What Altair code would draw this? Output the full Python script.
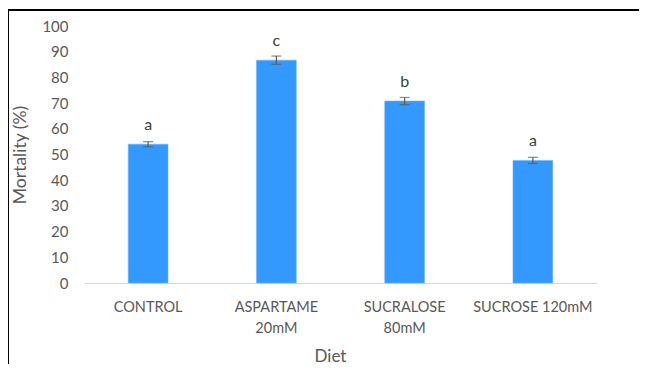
import altair as alt
import pandas as pd

categories = ["CONTROL", "ASPARTAME\n20mM", "SUCRALOSE\n80mM", "SUCROSE 120mM"]
mortality = [54.0, 86.7, 70.8, 47.7]
errors = [1.0, 1.6, 1.4, 1.2]
letters = ["a", "c", "b", "a"]
y_ticks = list(range(0, 101, 10))

df = pd.DataFrame({
    "diet": categories,
    "mortality": mortality,
    "lo": [m - e for m, e in zip(mortality, errors)],
    "hi": [m + e for m, e in zip(mortality, errors)],
    "letter": letters,
})

FONT = "Lato"
GRAY = "#595959"

x_axis = alt.Axis(title="Diet", labelAngle=0, labelExpr="split(datum.value, '\\n')",
                  labelFontSize=14.5, labelColor=GRAY, labelFont=FONT, labelPadding=17,
                  labelLineHeight=21, ticks=False, domainColor="#d9d9d9", domainWidth=1,
                  titleFontSize=17, titleFont=FONT, titleColor=GRAY, titleFontWeight="normal",
                  titleX=246, titleY=73, titleBaseline="middle")
y_axis = alt.Axis(title="Mortality (%)", values=y_ticks, tickCount=11, labelOverlap=False,
                  domain=False, ticks=False, grid=False, labelFontSize=15, labelColor=GRAY,
                  labelFont=FONT, labelPadding=16, titleFontSize=17.5, titleFont=FONT,
                  titleColor=GRAY, titleFontWeight="normal", titleX=-64, titleY=128.5,
                  titleBaseline="middle")
y_scale = alt.Scale(domain=[0, 100])
x_scale = alt.Scale(paddingInner=0.69, paddingOuter=0.345)

def X():
    return alt.X("diet:N", sort=categories, scale=x_scale, axis=x_axis)

def Y(field):
    return alt.Y(field, scale=y_scale, axis=y_axis)

bars = alt.Chart(df).mark_bar(color="#3399FF", stroke="#66B3FF", strokeWidth=0.6).encode(
    x=X(), y=Y("mortality:Q"))
rules = alt.Chart(df).mark_rule(color=GRAY, strokeWidth=1.2).encode(
    x=X(), y=Y("lo:Q"), y2="hi:Q")
caps_hi = alt.Chart(df).mark_tick(color=GRAY, size=10, thickness=1.2).encode(
    x=X(), y=Y("hi:Q"))
caps_lo = alt.Chart(df).mark_tick(color=GRAY, size=10, thickness=1.2).encode(
    x=X(), y=Y("lo:Q"))
text = alt.Chart(df).mark_text(font=FONT, fontSize=16, color="#404040", dy=-19, baseline="middle").encode(
    x=X(), y=Y("mortality:Q"), text="letter:N")

border_top = alt.Chart(df).mark_rule(color="black", strokeWidth=1.4).encode(
    x=alt.value(-76), x2=alt.value(700), y=alt.value(-16))
border_left = alt.Chart(df).mark_rule(color="black", strokeWidth=1.4).encode(
    x=alt.value(-76), y=alt.value(-16), y2=alt.value(400))

chart = alt.layer(bars, rules, caps_hi, caps_lo, text, border_top, border_left).properties(
    width=513, height=257,
    autosize=alt.AutoSizeParams(type="none"),
    padding={"left": 76, "top": 18, "right": 42, "bottom": 81},
).configure(background="white").configure_view(stroke="transparent", strokeWidth=0)

chart.save("out.html", embed_options={"renderer": "svg", "actions": False})
